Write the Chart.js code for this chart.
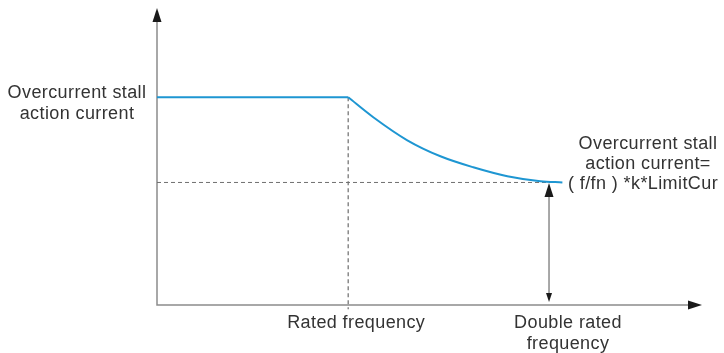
<!DOCTYPE html>
<html>
<head>
<meta charset="utf-8">
<script src="https://cdn.jsdelivr.net/npm/chart.js@4/dist/chart.umd.min.js"></script>
<style>
  html, body { margin: 0; padding: 0; background: #fff; }
</style>
</head>
<body>
<canvas id="myChart" width="724" height="353"></canvas>
<script>
// x = f/fn, y = current relative to the stall action current
const freqX = [0, 1, 1.131, 1.309, 1.482, 1.654, 1.832, 2.005, 2.12];
const currentY = [1.0, 1.0, 0.904, 0.793, 0.716, 0.663, 0.620, 0.596, 0.590];
const ratedX = 1;
const doubleX = 2.05;
const limitY = 0.59;
const xMax = 2.85;
const yMax = 1.43;

const leftLabel = ["Overcurrent stall", "action current"];
const rightLabel = ["Overcurrent stall", "action current=", "( f/fn ) *k*LimitCur"];
const ratedLabel = ["Rated frequency"];
const doubleLabel = ["Double rated", "frequency"];

const FONT = '18px "Liberation Sans", Arial, sans-serif';
const TEXT = '#333333';
const BLUE = '#1e96d2';

const pts = freqX.map((x, i) => ({ x: x, y: currentY[i] }));

function arrowHead(ctx, x, y, dir, len, half) {
  ctx.beginPath();
  if (dir === 'up') { ctx.moveTo(x, y); ctx.lineTo(x - half, y + len); ctx.lineTo(x + half, y + len); }
  if (dir === 'down') { ctx.moveTo(x, y); ctx.lineTo(x - half, y - len); ctx.lineTo(x + half, y - len); }
  if (dir === 'right') { ctx.moveTo(x, y); ctx.lineTo(x - len, y - half); ctx.lineTo(x - len, y + half); }
  ctx.closePath();
  ctx.fill();
}

const axesPlugin = {
  id: 'axes',
  beforeDatasetsDraw(chart) {
    const ctx = chart.ctx;
    const a = chart.chartArea;
    ctx.save();
    ctx.strokeStyle = '#8c8c8c';
    ctx.lineWidth = 1.5;
    ctx.beginPath();
    ctx.moveTo(a.left, a.top + 8);
    ctx.lineTo(a.left, a.bottom);
    ctx.lineTo(a.right - 8, a.bottom);
    ctx.stroke();
    ctx.restore();
  },
  afterDatasetsDraw(chart) {
    const ctx = chart.ctx;
    const a = chart.chartArea;
    const xs = chart.scales.x, ys = chart.scales.y;
    ctx.save();
    ctx.fillStyle = '#1a1a1a';
    arrowHead(ctx, a.left, a.top, 'up', 14, 4.5);
    arrowHead(ctx, a.right, a.bottom, 'right', 14, 4.5);
    const ax = xs.getPixelForValue(doubleX);
    arrowHead(ctx, ax, ys.getPixelForValue(limitY) + 0.5, 'up', 14, 4.5);
    arrowHead(ctx, ax, a.bottom - 3, 'down', 9, 3);

    ctx.fillStyle = TEXT;
    ctx.font = FONT;
    ctx.letterSpacing = '0.4px';
    ctx.textBaseline = 'middle';
    ctx.textAlign = 'center';
    leftLabel.forEach((t, i) => ctx.fillText(t, 77, ys.getPixelForValue(1.0) - 4 + i * 21));
    ctx.fillText(rightLabel[0], 648, 144);
    ctx.fillText(rightLabel[1], 648, 164);
    ctx.textAlign = 'left';
    ctx.fillText(rightLabel[2], 568, 184);
    ctx.textAlign = 'center';
    ratedLabel.forEach((t, i) => ctx.fillText(t, xs.getPixelForValue(ratedX) + 8, 323 + i * 21));
    doubleLabel.forEach((t, i) => ctx.fillText(t, 568, 323 + i * 21));
    ctx.restore();
  }
};

new Chart(document.getElementById('myChart'), {
  type: 'line',
  data: {
    datasets: [
      {
        // flat part up to the rated frequency
        data: pts.slice(0, 2),
        borderColor: BLUE,
        borderWidth: 2,
        pointRadius: 0,
        clip: false
      },
      {
        // decaying part above the rated frequency
        data: pts.slice(1),
        borderColor: BLUE,
        borderWidth: 2,
        pointRadius: 0,
        cubicInterpolationMode: 'monotone',
        clip: false
      },
      {
        data: [{ x: 0, y: limitY }, { x: freqX[freqX.length - 1], y: limitY }],
        borderColor: '#6f6f6f',
        borderWidth: 1,
        borderDash: [4, 3],
        pointRadius: 0,
        clip: false
      },
      {
        data: [{ x: ratedX, y: 1.0 }, { x: ratedX, y: -0.02 }],
        borderColor: '#8a8a8a',
        borderWidth: 1.5,
        borderDash: [4, 3],
        pointRadius: 0,
        clip: false
      },
      {
        data: [{ x: doubleX, y: limitY - 0.04 }, { x: doubleX, y: 0.03 }],
        borderColor: '#8c8c8c',
        borderWidth: 1.5,
        pointRadius: 0,
        clip: false
      }
    ]
  },
  options: {
    responsive: false,
    animation: false,
    layout: { padding: { left: 157, right: 22, top: 8, bottom: 48 } },
    plugins: { legend: { display: false }, tooltip: { enabled: false }, title: { display: false } },
    scales: {
      x: { type: 'linear', min: 0, max: xMax, display: false },
      y: { type: 'linear', min: 0, max: yMax, display: false }
    }
  },
  plugins: [axesPlugin]
});
</script>
</body>
</html>
